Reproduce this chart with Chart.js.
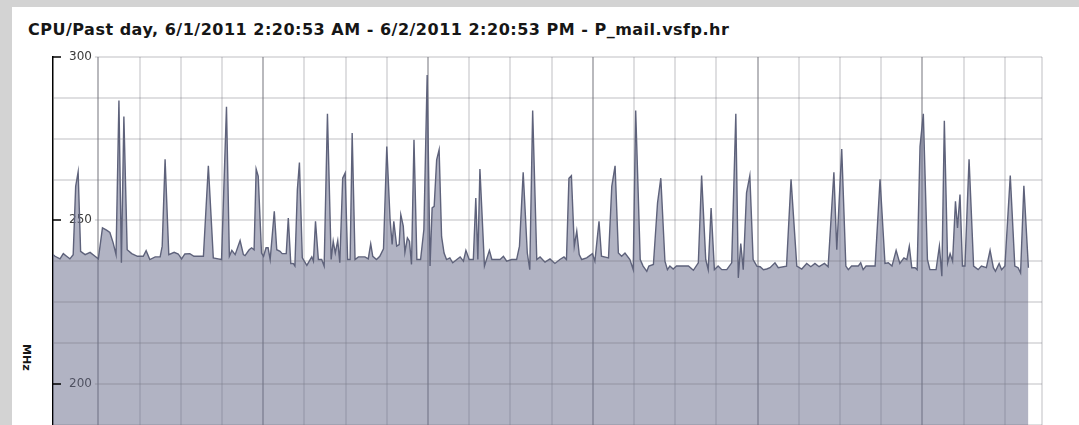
<!DOCTYPE html>
<html lang="en">
<head>
<meta charset="UTF-8">
<title>CPU/Past day - P_mail.vsfp.hr</title>
<script src="https://cdn.jsdelivr.net/npm/chart.js"></script>
<style>
  html, body { margin: 0; padding: 0; width: 1079px; height: 425px; overflow: hidden; background: #d3d3d3; }
  .panel { position: absolute; left: 12px; top: 7px; width: 1067px; height: 600px; background: #fff; }
  .title { position: absolute; left: 16px; top: 13px; font: bold 16px "DejaVu Sans", Verdana, sans-serif; letter-spacing: 0.5px; color: #161616; white-space: nowrap; }
  .unit { position: absolute; left: 8px; top: 337px; writing-mode: vertical-rl; font: bold 11px "DejaVu Sans", Verdana, sans-serif; color: #161616; }
  canvas { position: absolute; left: 0; top: 0; }
</style>
</head>
<body>
<div class="panel">
  <div class="title" id="title"></div>
  <div class="unit" id="unit"></div>
  <canvas id="cpuChart" width="1067" height="580"></canvas>
</div>
<script>
const TITLE = 'CPU/Past day, 6/1/2011 2:20:53 AM - 6/2/2011 2:20:53 PM - P_mail.vsfp.hr';
const UNIT = 'MHz';

// hours from the left edge of the plot
const TIME_H = [
  0.00, 0.05, 0.17, 0.25, 0.33, 0.41, 0.49, 0.55, 0.61, 0.67, 0.78, 0.90, 1.02, 1.10, 1.20, 1.30, 1.38, 1.46, 1.53, 1.60,
  1.66, 1.72, 1.80, 1.91, 2.05, 2.19, 2.26, 2.35, 2.48, 2.60, 2.65, 2.72, 2.81, 2.94, 3.04, 3.12, 3.20, 3.32, 3.42, 3.65,
  3.77, 3.89, 4.01, 4.09, 4.21, 4.28, 4.34, 4.42, 4.54, 4.62,
  4.66, 4.76, 4.82, 4.88, 4.93, 4.98, 5.06, 5.11, 5.17, 5.22, 5.27, 5.37, 5.43, 5.51, 5.56, 5.66, 5.71, 5.77, 5.83, 5.87,
  5.93, 5.98, 6.05, 6.16, 6.24, 6.28, 6.32, 6.37, 6.44, 6.52, 6.58, 6.66, 6.75, 6.80, 6.85, 6.91, 6.96, 7.03, 7.09, 7.15,
  7.21, 7.26, 7.33, 7.41, 7.57, 7.65, 7.71, 7.76, 7.85, 7.93, 8.02, 8.10, 8.18, 8.23, 8.27, 8.34, 8.40, 8.44, 8.50, 8.54,
  8.60, 8.65, 8.70, 8.76, 8.83, 8.92, 9.00, 9.08, 9.15, 9.20, 9.25, 9.31, 9.37,
  9.43, 9.49, 9.55, 9.63, 9.70, 9.80, 9.88, 9.96, 10.02, 10.10, 10.20, 10.26, 10.31, 10.36, 10.47, 10.59, 10.65, 10.85, 10.93, 11.01,
  11.13, 11.25, 11.32, 11.41, 11.51, 11.57, 11.64, 11.74, 11.82, 11.94, 12.06, 12.18, 12.30, 12.40, 12.46, 12.52, 12.58, 12.65, 12.71, 12.77,
  12.83, 12.95, 13.09, 13.15, 13.25, 13.31, 13.48, 13.56, 13.64, 13.72, 13.80, 13.88, 14.00, 14.08, 14.14,
  14.25, 14.32, 14.41, 14.46, 14.57, 14.67, 14.75, 14.85, 14.91, 14.97, 15.05, 15.13, 15.42, 15.54, 15.66, 15.74, 15.84, 15.90, 15.97, 16.05,
  16.14, 16.23, 16.35, 16.47, 16.57, 16.63, 16.69, 16.75, 16.83, 16.91, 16.99, 17.08, 17.16, 17.24, 17.32, 17.40, 17.52, 17.60, 17.80, 17.91,
  18.05, 18.17, 18.29, 18.39, 18.49, 18.59, 18.72, 18.81,
  18.95, 19.02, 19.14, 19.24, 19.30, 19.38, 19.54, 19.60, 19.66, 19.73, 19.95, 20.07, 20.19, 20.27, 20.36, 20.46, 20.55, 20.65, 20.72, 20.78,
  20.84, 20.92, 20.97, 21.04, 21.12, 21.22, 21.28, 21.43, 21.51, 21.57, 21.63, 21.71, 21.77, 21.83, 21.90, 21.95, 22.01, 22.07, 22.13, 22.23,
  22.34, 22.45, 22.53, 22.65, 22.74, 22.82, 22.87, 22.96, 23.02, 23.10, 23.23, 23.34, 23.42, 23.48, 23.56, 23.67
];

const CPU_MHZ = [
  239.5, 239.0, 238.2, 239.8, 239.0, 238.2, 239.5, 260.4, 264.8, 240.5, 239.5, 240.2, 239.0, 238.2, 247.7, 247.0, 246.3, 243.1, 239.5, 286.7,
  237.0, 281.8, 241.0, 239.8, 239.0, 239.0, 240.7, 238.0, 238.8, 238.8, 242.1, 268.7, 239.5, 240.2, 239.7, 238.2, 239.7, 239.8, 239.0, 239.0,
  266.7, 238.5, 238.2, 238.0, 284.8, 239.0, 240.8, 239.5, 243.8, 239.5,
  239.2, 241.0, 241.6, 241.0, 265.7, 263.5, 240.0, 239.0, 241.6, 241.6, 238.0, 252.8, 241.0, 240.5, 239.8, 239.8, 250.7, 236.8, 236.8, 236.0,
  259.4, 267.7, 238.5, 236.2, 238.0, 238.8, 237.5, 249.7, 238.0, 238.0, 236.0, 282.6, 238.0, 243.6, 240.0, 243.8, 237.0, 262.9, 264.5, 238.0,
  238.0, 276.7, 238.0, 238.8, 238.8, 238.2, 242.8, 239.0, 238.0, 239.0, 241.3, 272.6, 250.2, 242.6, 249.7, 242.1, 242.6, 251.7, 248.2, 240.2,
  244.6, 243.6, 236.5, 274.7, 238.0, 238.0, 247.2, 294.5, 236.0, 253.8, 254.3, 268.5, 271.6,
  245.0, 240.0, 238.0, 238.5, 237.0, 238.0, 238.8, 237.5, 240.8, 238.0, 238.0, 256.8, 238.0, 265.7, 236.0, 240.8, 238.0, 238.0, 239.0, 237.5,
  238.0, 238.0, 242.1, 264.7, 240.0, 234.9, 283.6, 238.0, 238.8, 237.2, 238.2, 236.8, 238.0, 238.8, 238.0, 262.9, 263.7, 242.1, 246.7, 239.5,
  238.0, 238.5, 239.8, 237.5, 249.7, 239.0, 238.5, 260.4, 266.7, 240.0, 239.0, 240.0, 238.0, 234.9, 283.6,
  238.0, 236.0, 234.4, 236.0, 236.5, 255.3, 262.9, 237.5, 234.9, 236.0, 235.1, 236.0, 236.0, 234.7, 237.0, 263.7, 238.0, 234.9, 253.8, 234.9,
  236.0, 234.9, 234.9, 237.0, 282.6, 232.4, 242.9, 234.9, 258.4, 263.7, 238.0, 236.0, 235.8, 234.9, 235.1, 235.5, 237.0, 235.5, 236.0, 262.6,
  236.0, 235.1, 236.8, 235.8, 236.8, 235.8, 236.8, 235.8,
  264.7, 241.0, 271.8, 236.0, 234.9, 236.0, 236.0, 237.0, 234.9, 236.0, 236.0, 262.6, 236.8, 237.0, 236.0, 240.8, 236.8, 238.5, 238.0, 242.1,
  235.5, 235.5, 234.9, 272.6, 282.6, 238.0, 234.9, 234.9, 242.1, 232.9, 280.5, 237.0, 239.8, 237.5, 255.8, 247.7, 257.9, 236.0, 236.0, 268.7,
  236.0, 234.9, 236.0, 235.5, 240.8, 235.5, 234.4, 236.8, 234.9, 236.0, 263.7, 236.0, 235.5, 233.9, 260.6, 235.5
];

// vertical grid lines (hours), every 4th one is darker; last one is the right border
const GRID_HOURS = [1.1, 2.1, 3.1, 4.1, 5.1, 6.1, 7.1, 8.1, 9.1, 10.1, 11.1, 12.1, 13.1, 14.1, 15.1, 16.1,
  17.1, 18.1, 19.1, 20.1, 21.1, 22.1, 23.1, 24];
const MAJOR_HOURS = [1.1, 5.1, 9.1, 13.1, 17.1, 21.1];
const Y_TICKS = [150, 162.5, 175, 187.5, 200, 212.5, 225, 237.5, 250, 262.5, 275, 287.5, 300];
const Y_LABELS = [200, 250, 300];

const GRID_MINOR = 'rgba(110,110,120,0.22)';
const GRID_MAJOR = 'rgba(80,80,90,0.40)';
const LABEL_FONT = '12px "DejaVu Sans", Verdana, sans-serif';
const LABEL_PAD = 16;

document.getElementById('title').textContent = TITLE;
document.getElementById('unit').textContent = UNIT;

// horizontal grid lines + short inner tick marks; grid stops where a label sits
const yGridPlugin = {
    id: 'yGrid',
    afterDatasetsDraw(chart) {
        const { ctx, chartArea: area, scales: { y } } = chart;
        ctx.save();
        ctx.font = LABEL_FONT;
        for (const v of Y_TICKS) {
            const py = Math.round(y.getPixelForValue(v));
            let x0 = area.left;
            if (Y_LABELS.includes(v)) {
                ctx.strokeStyle = '#000';
                ctx.lineWidth = 1.5;
                ctx.beginPath();
                ctx.moveTo(area.left, py);
                ctx.lineTo(area.left + 8, py);
                ctx.stroke();
                x0 = area.left + LABEL_PAD + ctx.measureText(String(v)).width + 3;
            }
            ctx.strokeStyle = GRID_MINOR;
            ctx.lineWidth = 2;
            ctx.beginPath();
            ctx.moveTo(x0, py);
            ctx.lineTo(area.right, py);
            ctx.stroke();
        }
        ctx.restore();
    }
};

const ctx = document.getElementById('cpuChart').getContext('2d');
new Chart(ctx, {
    type: 'line',
    data: {
        datasets: [{
            label: 'CPU (MHz)',
            data: TIME_H.map((t, i) => ({ x: t, y: CPU_MHZ[i] })),
            borderColor: '#5e627b',
            borderWidth: 1.4,
            backgroundColor: 'rgba(100,104,135,0.5)',
            fill: 'start',
            pointRadius: 0,
            tension: 0
        }]
    },
    options: {
        responsive: false,
        animation: false,
        layout: { padding: { left: 41, top: 50, right: 37, bottom: 40 } },
        plugins: {
            legend: { display: false },
            tooltip: { enabled: false },
            title: { display: false }
        },
        scales: {
            x: {
                type: 'linear',
                min: 0,
                max: 24,
                z: 1,
                afterBuildTicks: s => { s.ticks = GRID_HOURS.map(v => ({ value: v })); },
                afterFit: s => { s.height = 0; },
                ticks: { display: false },
                grid: {
                    drawTicks: false,
                    lineWidth: 2,
                    color: c => MAJOR_HOURS.includes(c.tick && c.tick.value) ? GRID_MAJOR : GRID_MINOR
                },
                border: { display: false }
            },
            y: {
                type: 'linear',
                min: 150,
                max: 300,
                z: 1,
                afterBuildTicks: s => { s.ticks = Y_TICKS.map(v => ({ value: v })); },
                afterFit: s => { s.width = 0; },
                ticks: {
                    mirror: true,
                    padding: LABEL_PAD,
                    color: '#3a3a3a',
                    font: { family: '"DejaVu Sans", Verdana, sans-serif', size: 12 },
                    callback: v => Y_LABELS.includes(v) ? String(v) : ''
                },
                grid: { display: false },
                border: { display: true, color: '#000', width: 1.5 }
            }
        }
    },
    plugins: [yGridPlugin]
});
</script>
</body>
</html>
